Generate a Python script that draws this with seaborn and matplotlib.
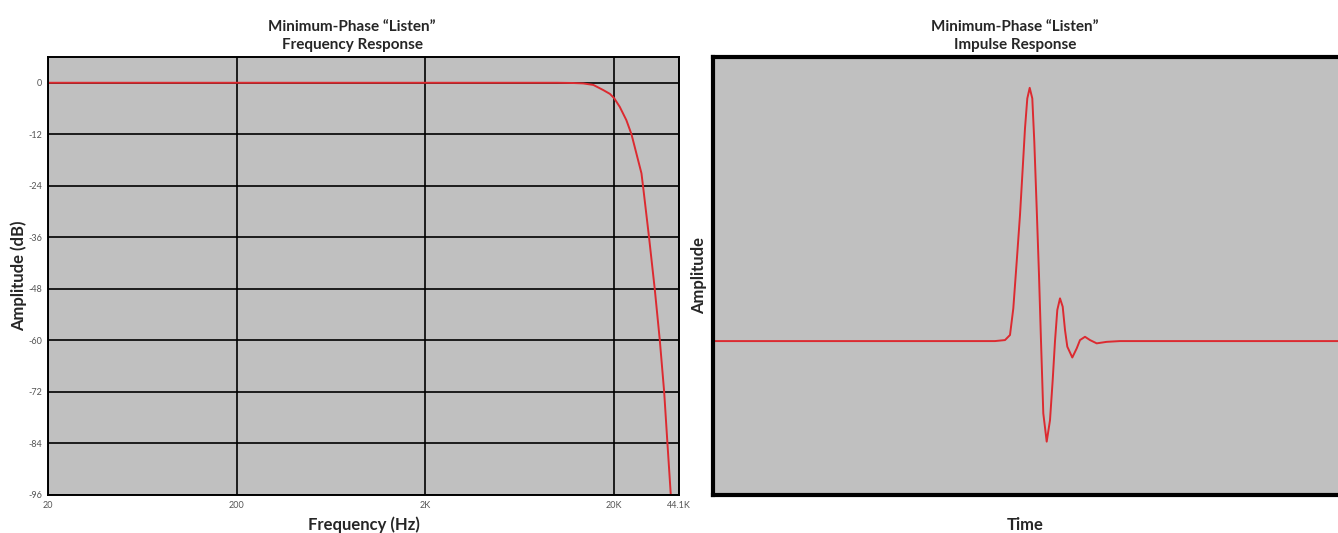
import matplotlib
matplotlib.use("Agg")
import matplotlib.pyplot as plt
import seaborn as sns
import pandas as pd

# frequency response (Hz, dB)
freq_hz = [20, 1000, 10000, 12000, 13700, 15500, 17500, 19000, 20000, 21400,
           23200, 24700, 26200, 27900, 28600, 30600, 32800, 34900, 36800,
           38300, 39900, 40300]
amp_db = [0, 0, 0, -0.05, -0.15, -0.5, -1.7, -2.6, -3.6, -5.6,
          -8.7, -12, -16.4, -21.1, -25, -36, -48, -60, -72,
          -84, -96, -99]

freq_ticks = [20, 200, 2000, 20000, 44100]
freq_labels = ["20", "200", "2K", "20K", "44.1K"]
db_ticks = [0, -12, -24, -36, -48, -60, -72, -84, -96]

# impulse response (arbitrary time units, normalised amplitude)
imp_time = [0, 282, 292, 297, 300.3, 303.7, 307, 309.7, 312, 314.3,
            316.7, 319.3, 321.3, 323.7, 326, 328, 330.3, 333.7, 337, 339.7,
            342, 344.3, 347, 349.7, 352, 354.3, 359.3, 363.7, 367, 372,
            377, 383.7, 393.7, 407, 625]
imp_amp = [0, 0, 0.004, 0.024, 0.129, 0.314, 0.499, 0.683, 0.842, 0.960,
           1.002, 0.960, 0.789, 0.525, 0.261, 0, -0.286, -0.398, -0.313, -0.154,
           0, 0.123, 0.169, 0.136, 0.044, -0.022, -0.065, -0.029, 0.004, 0.017,
           0.004, -0.009, -0.003, 0, 0]

freq_df = pd.DataFrame({"Frequency": freq_hz, "dB": amp_db})
imp_df = pd.DataFrame({"Time": imp_time, "Amplitude": imp_amp})

sns.set_theme(style="white")
plt.rcParams["font.family"] = ["Lato", "DejaVu Sans"]
plt.rcParams["lines.solid_joinstyle"] = "round"

red = "#dc2a30"
bg = "#c0c0c0"

fig = plt.figure(figsize=(13.38, 5.33), dpi=100)

# left: frequency response
ax1 = fig.add_axes([48 / 1338, 38 / 533, 631 / 1338, 438 / 533])
ax1.set_facecolor(bg)
sns.lineplot(data=freq_df, x="Frequency", y="dB", ax=ax1, color=red, linewidth=1.4)
ax1.set_xscale("log")
ax1.set_xlim(20, 44100)
ax1.set_ylim(-96, 6)
ax1.set_xticks(freq_ticks)
ax1.set_xticklabels(freq_labels)
ax1.minorticks_off()
ax1.set_yticks(db_ticks)
ax1.set_yticklabels([str(t) for t in db_ticks])
ax1.tick_params(length=0, labelsize=6.5, labelcolor="#555555", pad=4)
ax1.grid(True, color="black", linewidth=1.2)
ax1.set_axisbelow(True)
for s in ax1.spines.values():
    s.set_color("black")
    s.set_linewidth(1.4)
ax1.set_xlabel("Frequency (Hz)", fontsize=12, fontweight="bold", labelpad=5)
ax1.set_ylabel("Amplitude (dB)", fontsize=12, fontweight="bold", labelpad=1)
ax1.set_title("Minimum-Phase \u201cListen\u201d\nFrequency Response", fontsize=11,
              fontweight="bold", linespacing=1.3, pad=6, x=0.482)

# right: impulse response
ax2 = fig.add_axes([713 / 1338, 38 / 533, 625 / 1338, 438 / 533])
ax2.set_facecolor(bg)
sns.lineplot(data=imp_df, x="Time", y="Amplitude", ax=ax2, color=red, linewidth=1.4)
ax2.set_xlim(0, 625)
ax2.set_ylim(-0.609, 1.124)
ax2.set_xticks([])
ax2.set_yticks([])
for name, s in ax2.spines.items():
    s.set_color("black")
    s.set_linewidth(3)
ax2.spines["right"].set_visible(False)
ax2.set_xlabel("Time", fontsize=12, fontweight="bold", labelpad=16)
ax2.set_ylabel("Amplitude", fontsize=12, fontweight="bold", labelpad=4)
ax2.set_title("Minimum-Phase \u201cListen\u201d\nImpulse Response", fontsize=11,
              fontweight="bold", linespacing=1.3, pad=6, x=0.483)

fig.savefig("out.png", dpi=100)
